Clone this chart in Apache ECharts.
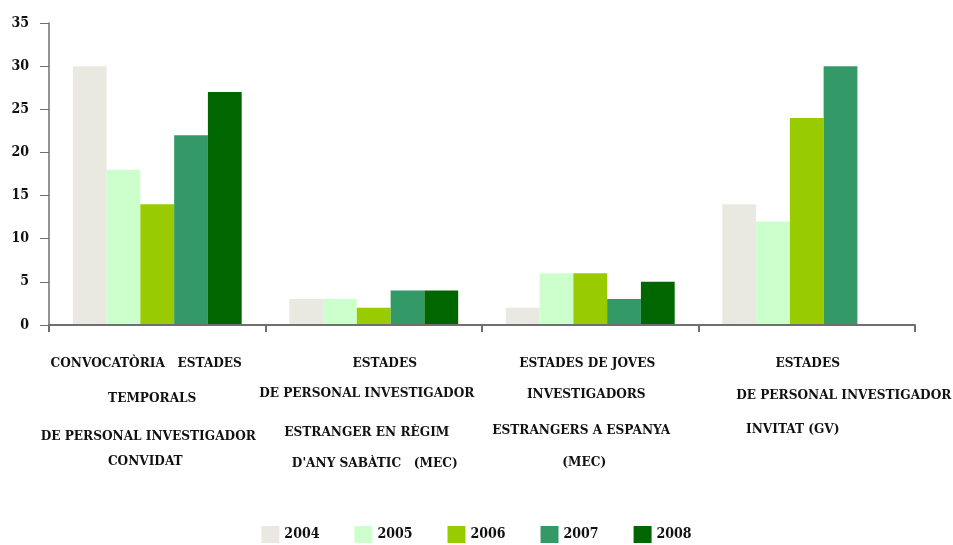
<!DOCTYPE html>
<html>
<head>
<meta charset="utf-8">
<script src="https://cdn.jsdelivr.net/npm/echarts@6/dist/echarts.min.js"></script>
<style>html,body{margin:0;padding:0;background:#fff}#c{width:953px;height:545px}</style>
</head>
<body>
<div id="c"></div>
<script>
// ---- data ----
const categoryLines = [
  ['CONVOCATÒRIA   ESTADES', 'TEMPORALS', 'DE PERSONAL INVESTIGADOR', 'CONVIDAT'],
  ['ESTADES', 'DE PERSONAL INVESTIGADOR', 'ESTRANGER EN RÈGIM', "D'ANY SABÀTIC   (MEC)"],
  ['ESTADES DE JOVES', 'INVESTIGADORS', 'ESTRANGERS A ESPANYA', '(MEC)'],
  ['ESTADES', 'DE PERSONAL INVESTIGADOR', 'INVITAT (GV)']
];
const seriesNames = ['2004', '2005', '2006', '2007', '2008'];
const v2004 = [30, 3, 2, 14];
const v2005 = [18, 3, 6, 12];
const v2006 = [14, 2, 6, 24];
const v2007 = [22, 4, 3, 30];
const v2008 = [27, 4, 5, null];
const yTicks = [0, 5, 10, 15, 20, 25, 30, 35];

// ---- layout / style ----
const colors = ['#EAE9E1', '#CCFFCC', '#99CC00', '#339966', '#006600'];
const FONT = '"DejaVu Serif Condensed", "DejaVu Serif", serif';
// per-line horizontal offset (px) and line heights for category labels
const lineOffsets = [[-11, -5, -9, -12], [11, -7, -7, 1], [-3, -4, -9, -6], [1, 37, -14]];
const lineHeights = [[30, 40, 37, 12], [30, 30, 49, 13], [30, 33, 39, 25], [30, 34, 34]];

const rich = {};
const catKeys = categoryLines.map((lines, i) => {
  lines.forEach((t, j) => {
    const dx = lineOffsets[i][j];
    rich['c' + i + 'l' + j] = {
      fontFamily: FONT, fontWeight: 'bold', fontSize: 13.5, color: '#111',
      lineHeight: lineHeights[i][j],
      padding: [0, dx < 0 ? -2 * dx : 0, 0, dx > 0 ? 2 * dx : 0]
    };
  });
  return 'cat' + i;
});

const seriesValues = [v2004, v2005, v2006, v2007, v2008];
const chart = echarts.init(document.getElementById('c'));
chart.setOption({
  animation: false,
  backgroundColor: '#fff',
  color: colors,
  grid: { left: 49, right: 38, top: 23, bottom: 220, containLabel: false, outerBoundsMode: 'none' },
  legend: {
    data: seriesNames,
    bottom: 2,
    padding: 0,
    left: 'center',
    icon: 'rect',
    itemWidth: 18,
    itemHeight: 17,
    itemGap: 35,
    textStyle: { fontFamily: FONT, fontWeight: 'bold', fontSize: 14, color: '#111' }
  },
  xAxis: {
    type: 'category',
    data: catKeys,
    z: 5,
    axisLine: { lineStyle: { color: '#6f6f6f', width: 2 } },
    axisTick: { show: true, length: 7, lineStyle: { color: '#6f6f6f', width: 2 } },
    axisLabel: {
      interval: 0,
      margin: 23,
      hideOverlap: false,
      formatter: (val, idx) => categoryLines[idx].map((t, j) => '{c' + idx + 'l' + j + '|' + t + '}').join('\n'),
      rich: rich
    }
  },
  yAxis: {
    type: 'value',
    min: yTicks[0],
    max: yTicks[yTicks.length - 1],
    interval: 5,
    splitLine: { show: false },
    axisLine: { show: true, lineStyle: { color: '#6f6f6f', width: 1.5 } },
    axisTick: { show: true, length: 9, lineStyle: { color: '#6f6f6f' } },
    axisLabel: { margin: 20, fontFamily: FONT, fontWeight: 'bold', fontSize: 14, color: '#111' }
  },
  series: seriesNames.map((n, i) => ({
    name: n,
    type: 'bar',
    data: seriesValues[i],
    barGap: '0%',
    barCategoryGap: '22%'
  }))
});
</script>
</body>
</html>
